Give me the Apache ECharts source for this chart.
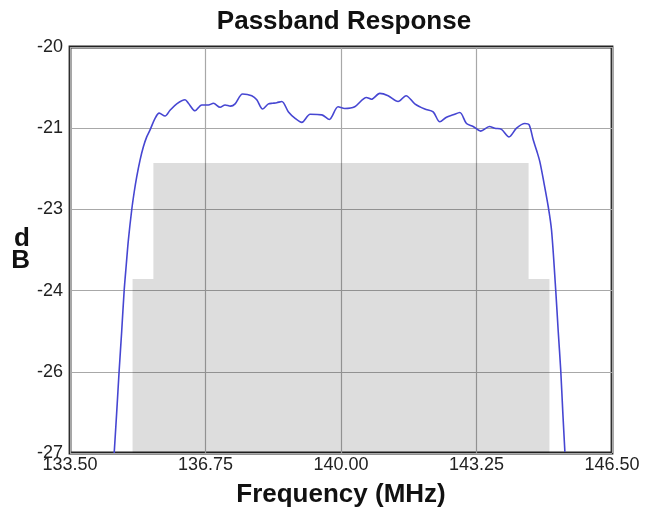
<!DOCTYPE html>
<html>
<head>
    <meta charset='utf-8'>
    <script src="https://cdn.jsdelivr.net/npm/echarts@6/dist/echarts.min.js"></script>
</head>
<body>
<style>
    html, body, #main {
        width: 100%;
        height: 100%;
        margin: 0;
        padding: 0;
        background: #fff;
    }
</style>
<div id="main"></div>
<script>
    // measured passband response (MHz, dB)
    var freq = [
        134.56, 134.62, 134.68, 134.74, 134.80, 134.85, 134.90, 134.98, 135.04, 135.10,
        135.18, 135.26, 135.34, 135.42, 135.54, 135.64, 135.78, 135.90, 136.06, 136.26,
        136.34, 136.50, 136.66, 136.82, 136.94, 137.10, 137.22, 137.35, 137.46, 137.64,
        137.86, 137.98, 138.12, 138.26, 138.36, 138.46, 138.58, 138.74, 138.90, 139.06,
        139.26, 139.54, 139.72, 139.93, 140.09, 140.33, 140.61, 140.73, 140.93, 141.13,
        141.37, 141.56, 141.77, 142.01, 142.21, 142.37, 142.53, 142.69, 142.85, 143.01,
        143.17, 143.35, 143.56, 143.69, 143.85, 144.03, 144.21, 144.41, 144.51, 144.61,
        144.69, 144.77, 144.87, 144.97, 145.05, 145.15, 145.21, 145.27, 145.32, 145.37
    ];
    var gain = [
        -27.0, -26.3, -25.57, -24.9, -24.19, -23.75, -23.33, -22.81, -22.5, -22.24,
        -21.95, -21.72, -21.55, -21.43, -21.23, -21.14, -21.19, -21.09, -20.98, -20.91,
        -20.97, -21.10, -21.00, -21.00, -20.97, -21.04, -21.00, -21.02, -20.98, -20.81,
        -20.84, -20.91, -21.07, -20.98, -20.97, -20.96, -20.94, -21.12, -21.23, -21.30,
        -21.16, -21.17, -21.25, -21.03, -21.06, -21.03, -20.87, -20.90, -20.80, -20.84,
        -20.94, -20.84, -20.98, -21.07, -21.12, -21.29, -21.21, -21.17, -21.13, -21.32,
        -21.37, -21.45, -21.37, -21.40, -21.42, -21.55, -21.40, -21.32, -21.34, -21.60,
        -21.78, -21.98, -22.35, -22.75, -23.16, -24.19, -24.9, -25.57, -26.3, -26.98
    ];

    // spec mask: edges (MHz) and the level between each pair of edges (dB)
    var maskEdges = [135.0, 135.5, 144.5, 145.0];
    var maskLevels = [-24, -22, -24];

    var xTicks = ['133.50', '136.75', '140.00', '143.25', '146.50'];

    var yMin = -27, yMax = -20;

    var curve = freq.map(function (f, i) { return [f, gain[i]]; });

    var mask = [[maskEdges[0], yMin]];
    for (var i = 0; i < maskLevels.length; i++) {
        mask.push([maskEdges[i], maskLevels[i]]);
        mask.push([maskEdges[i + 1], maskLevels[i]]);
    }
    mask.push([maskEdges[maskEdges.length - 1], yMin]);

    var chart = echarts.init(document.getElementById('main'));

    var font = 'Liberation Sans, Arial, sans-serif';

    chart.setOption({
        animation: false,
        title: {
            text: 'Passband Response',
            left: 339,
            top: 4,
            textAlign: 'center',
            textStyle: {
                fontFamily: font,
                fontSize: 26,
                fontWeight: 'bold',
                color: '#111'
            }
        },
        grid: {
            left: 70,
            right: 39,
            top: 47,
            bottom: 66,
            show: true,
            borderColor: '#222',
            borderWidth: 2.8,
            backgroundColor: 'transparent'
        },
        xAxis: {
            type: 'value',
            min: 133.5,
            max: 146.5,
            interval: 3.25,
            name: 'Frequency (MHz)',
            nameLocation: 'middle',
            nameGap: 29,
            nameTextStyle: {
                fontFamily: font,
                fontSize: 26,
                fontWeight: 'bold',
                color: '#111'
            },
            axisLine: { show: false },
            axisTick: { show: false },
            axisLabel: {
                margin: 3,
                fontFamily: font,
                fontSize: 18,
                color: '#222',
                formatter: function (v) {
                    var idx = Math.round((v - 133.5) / 3.25);
                    return xTicks[idx];
                }
            },
            splitLine: { show: true, lineStyle: { color: '#a8a8a8', width: 1.2 } }
        },
        yAxis: {
            type: 'value',
            min: yMin,
            max: yMax,
            interval: 1.4,
            name: 'd\nB',
            nameLocation: 'middle',
            nameRotate: 0,
            nameGap: 40,
            nameTextStyle: {
                fontFamily: font,
                fontSize: 26,
                fontWeight: 'bold',
                lineHeight: 22,
                color: '#111',
                padding: [6, 0, 0, 0]
            },
            axisLine: { show: false },
            axisTick: { show: false },
            axisLabel: {
                margin: 7,
                fontFamily: font,
                fontSize: 18,
                color: '#222',
                formatter: function (v) {
                    return String(Math.round(v));
                }
            },
            splitLine: { show: true, lineStyle: { color: '#a8a8a8', width: 1.2 } }
        },
        series: [
            {
                name: 'mask',
                type: 'line',
                data: mask,
                symbol: 'none',
                lineStyle: { width: 0 },
                areaStyle: { color: 'rgba(0,0,0,0.135)', origin: 'start', opacity: 1 },
                silent: true
            },
            {
                name: 'response',
                type: 'line',
                data: curve,
                symbol: 'none',
                smooth: 0.3,
                lineStyle: { color: '#4646d2', width: 1.6 }
            }
        ]
    });
</script>
</body>
</html>
